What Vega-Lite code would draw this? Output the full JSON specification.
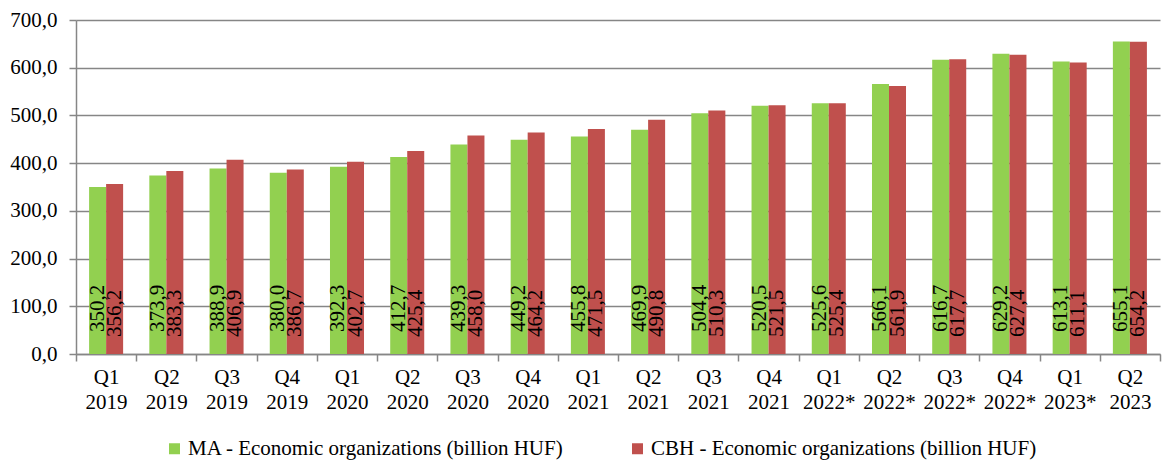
{
  "$schema": "https://vega.github.io/schema/vega-lite/v6.json",
  "width": 1084,
  "height": 334,
  "autosize": {"type": "none"},
  "padding": {"left": 76, "top": 20, "right": 4, "bottom": 112},
  "background": "white",
  "config": {
    "locale": {"number": {"decimal": ",", "thousands": " ", "grouping": [3], "currency": ["", ""]}},
    "font": "'Liberation Serif', 'Times New Roman', serif",
    "view": {"stroke": null}
  },
  "data": {
    "values": [
      {"q": "Q1 2019", "s": "MA - Economic organizations (billion HUF)", "v": 350.2},
      {"q": "Q1 2019", "s": "CBH - Economic organizations (billion HUF)", "v": 356.2},
      {"q": "Q2 2019", "s": "MA - Economic organizations (billion HUF)", "v": 373.9},
      {"q": "Q2 2019", "s": "CBH - Economic organizations (billion HUF)", "v": 383.3},
      {"q": "Q3 2019", "s": "MA - Economic organizations (billion HUF)", "v": 388.9},
      {"q": "Q3 2019", "s": "CBH - Economic organizations (billion HUF)", "v": 406.9},
      {"q": "Q4 2019", "s": "MA - Economic organizations (billion HUF)", "v": 380.0},
      {"q": "Q4 2019", "s": "CBH - Economic organizations (billion HUF)", "v": 386.7},
      {"q": "Q1 2020", "s": "MA - Economic organizations (billion HUF)", "v": 392.3},
      {"q": "Q1 2020", "s": "CBH - Economic organizations (billion HUF)", "v": 402.7},
      {"q": "Q2 2020", "s": "MA - Economic organizations (billion HUF)", "v": 412.7},
      {"q": "Q2 2020", "s": "CBH - Economic organizations (billion HUF)", "v": 425.4},
      {"q": "Q3 2020", "s": "MA - Economic organizations (billion HUF)", "v": 439.3},
      {"q": "Q3 2020", "s": "CBH - Economic organizations (billion HUF)", "v": 458.0},
      {"q": "Q4 2020", "s": "MA - Economic organizations (billion HUF)", "v": 449.2},
      {"q": "Q4 2020", "s": "CBH - Economic organizations (billion HUF)", "v": 464.2},
      {"q": "Q1 2021", "s": "MA - Economic organizations (billion HUF)", "v": 455.8},
      {"q": "Q1 2021", "s": "CBH - Economic organizations (billion HUF)", "v": 471.5},
      {"q": "Q2 2021", "s": "MA - Economic organizations (billion HUF)", "v": 469.9},
      {"q": "Q2 2021", "s": "CBH - Economic organizations (billion HUF)", "v": 490.8},
      {"q": "Q3 2021", "s": "MA - Economic organizations (billion HUF)", "v": 504.4},
      {"q": "Q3 2021", "s": "CBH - Economic organizations (billion HUF)", "v": 510.3},
      {"q": "Q4 2021", "s": "MA - Economic organizations (billion HUF)", "v": 520.5},
      {"q": "Q4 2021", "s": "CBH - Economic organizations (billion HUF)", "v": 521.5},
      {"q": "Q1 2022*", "s": "MA - Economic organizations (billion HUF)", "v": 525.6},
      {"q": "Q1 2022*", "s": "CBH - Economic organizations (billion HUF)", "v": 525.4},
      {"q": "Q2 2022*", "s": "MA - Economic organizations (billion HUF)", "v": 566.1},
      {"q": "Q2 2022*", "s": "CBH - Economic organizations (billion HUF)", "v": 561.9},
      {"q": "Q3 2022*", "s": "MA - Economic organizations (billion HUF)", "v": 616.7},
      {"q": "Q3 2022*", "s": "CBH - Economic organizations (billion HUF)", "v": 617.7},
      {"q": "Q4 2022*", "s": "MA - Economic organizations (billion HUF)", "v": 629.2},
      {"q": "Q4 2022*", "s": "CBH - Economic organizations (billion HUF)", "v": 627.4},
      {"q": "Q1 2023*", "s": "MA - Economic organizations (billion HUF)", "v": 613.1},
      {"q": "Q1 2023*", "s": "CBH - Economic organizations (billion HUF)", "v": 611.1},
      {"q": "Q2 2023", "s": "MA - Economic organizations (billion HUF)", "v": 655.1},
      {"q": "Q2 2023", "s": "CBH - Economic organizations (billion HUF)", "v": 654.2}
    ]
  },
  "encoding": {
    "x": {
      "field": "q", "type": "nominal", "sort": null,
      "scale": {"paddingInner": 0, "paddingOuter": 0},
      "axis": {
        "title": null, "labelAngle": 0, "labelExpr": "split(datum.label, ' ')",
        "labelFont": "'Liberation Serif', 'Times New Roman', serif", "labelFontSize": 21, "labelColor": "black",
        "labelLineHeight": 25, "labelPadding": 5, "labelBaseline": "top",
        "tickBand": "extent", "tickSize": 7, "tickColor": "#868686", "tickWidth": 1.5,
        "domainColor": "#868686", "domainWidth": 1.5, "grid": false
      }
    },
    "xOffset": {
      "field": "s", "type": "nominal", "sort": null,
      "scale": {"paddingInner": 0, "paddingOuter": 0.77}
    },
    "y": {
      "field": "v", "type": "quantitative",
      "scale": {"domain": [0, 700]},
      "axis": {
        "title": null, "values": [0, 100, 200, 300, 400, 500, 600, 700], "format": ".1f",
        "labelFont": "'Liberation Serif', 'Times New Roman', serif", "labelFontSize": 21, "labelColor": "black",
        "labelPadding": 12, "tickSize": 7, "tickColor": "#868686", "tickWidth": 1.5,
        "domainColor": "#868686", "domainWidth": 1.5,
        "grid": true, "gridColor": "#868686", "gridWidth": 1.5
      }
    }
  },
  "layer": [
    {
      "mark": {"type": "bar"},
      "encoding": {
        "color": {
          "field": "s", "type": "nominal", "sort": null,
          "scale": {
            "domain": ["MA - Economic organizations (billion HUF)", "CBH - Economic organizations (billion HUF)"],
            "range": ["#92D050", "#C0504D"]
          },
          "legend": {
            "title": null, "orient": "none", "direction": "horizontal",
            "legendX": 88, "legendY": 418,
            "symbolType": "square", "symbolSize": 121, "symbolStrokeWidth": 0,
            "labelFont": "'Liberation Serif', 'Times New Roman', serif", "labelFontSize": 21, "labelColor": "black",
            "labelLimit": 600, "labelOffset": 3, "columnPadding": 63
          }
        }
      }
    },
    {
      "transform": [{"filter": "datum.s == 'MA - Economic organizations (billion HUF)'"}],
      "mark": {"type": "text", "angle": 270, "align": "left", "baseline": "middle", "dx": 22, "fontSize": 21, "font": "'Liberation Serif', 'Times New Roman', serif", "color": "black"},
      "encoding": {
        "y": {"datum": 0, "type": "quantitative"},
        "text": {"field": "v", "type": "quantitative", "format": ".1f"}
      }
    },
    {
      "transform": [{"filter": "datum.s == 'CBH - Economic organizations (billion HUF)'"}],
      "mark": {"type": "text", "angle": 270, "align": "left", "baseline": "middle", "dx": 17, "fontSize": 21, "font": "'Liberation Serif', 'Times New Roman', serif", "color": "black"},
      "encoding": {
        "y": {"datum": 0, "type": "quantitative"},
        "text": {"field": "v", "type": "quantitative", "format": ".1f"}
      }
    }
  ]
}
